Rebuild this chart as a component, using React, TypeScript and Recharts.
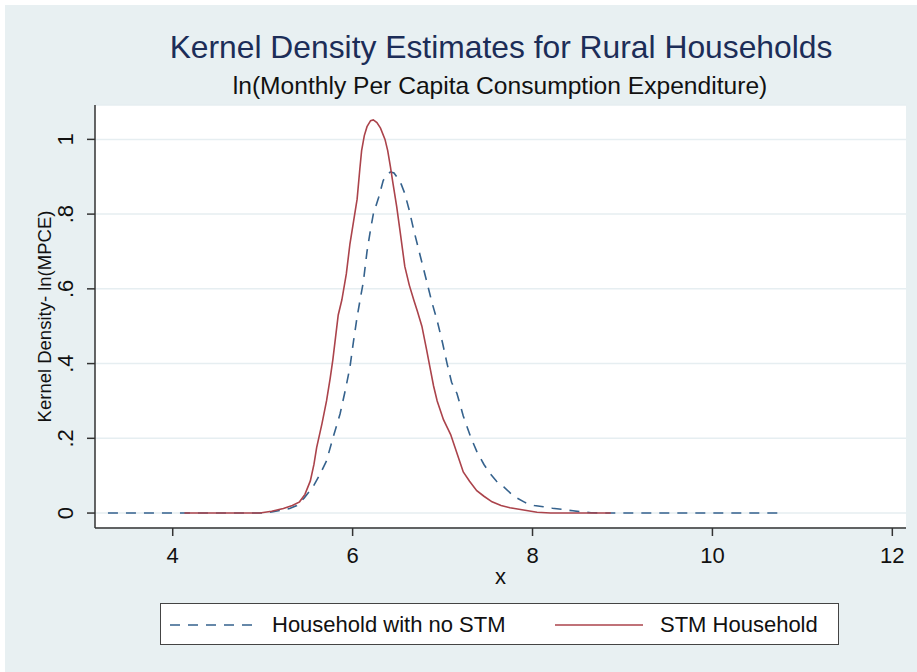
import React from 'react';
import { LineChart, Line, XAxis, YAxis, CartesianGrid } from 'recharts';

// ln(MPCE) grid points and kernel density
const noStmX = [3.28, 5.0, 5.1, 5.2, 5.3, 5.38, 5.46, 5.56, 5.64, 5.71, 5.78, 5.86, 5.92, 5.97, 6.01, 6.05, 6.09, 6.12, 6.16, 6.2, 6.23, 6.29, 6.34, 6.38, 6.42, 6.46, 6.49, 6.54, 6.58, 6.63, 6.68, 6.75, 6.83, 6.88, 6.94, 7.0, 7.05, 7.1, 7.16, 7.23, 7.31, 7.38, 7.46, 7.53, 7.6, 7.68, 7.76, 7.83, 7.92, 8.02, 8.12, 8.22, 8.32, 8.45, 8.55, 8.65, 8.8, 10.76];
const noStmY = [0, 0, 0.003, 0.007, 0.012, 0.02, 0.04, 0.07, 0.105, 0.14, 0.2, 0.265, 0.33, 0.39, 0.46, 0.525, 0.58, 0.62, 0.7, 0.76, 0.8, 0.845, 0.89, 0.905, 0.913, 0.91, 0.9, 0.88, 0.855, 0.81, 0.757, 0.69, 0.614, 0.565, 0.515, 0.455, 0.4, 0.35, 0.32, 0.26, 0.205, 0.165, 0.13, 0.105, 0.085, 0.07, 0.052, 0.04, 0.028, 0.02, 0.017, 0.013, 0.01, 0.006, 0.003, 0.001, 0, 0];

const stmX = [4.13, 4.97, 5.1, 5.23, 5.33, 5.41, 5.47, 5.53, 5.57, 5.6, 5.66, 5.71, 5.75, 5.78, 5.81, 5.84, 5.88, 5.93, 5.97, 6.01, 6.05, 6.08, 6.1, 6.13, 6.16, 6.2, 6.23, 6.27, 6.31, 6.36, 6.39, 6.42, 6.45, 6.49, 6.53, 6.58, 6.63, 6.68, 6.72, 6.77, 6.82, 6.86, 6.9, 6.94, 7.01, 7.09, 7.16, 7.23, 7.3, 7.38, 7.46, 7.55, 7.65, 7.75, 7.85, 7.95, 8.05, 8.2, 8.87];
const stmY = [0, 0, 0.005, 0.012, 0.02, 0.03, 0.05, 0.086, 0.13, 0.175, 0.24, 0.3, 0.36, 0.41, 0.47, 0.53, 0.57, 0.64, 0.72, 0.78, 0.84, 0.92, 0.97, 1.01, 1.034, 1.05, 1.052, 1.045, 1.03, 1.0, 0.97, 0.927, 0.88, 0.82, 0.75, 0.66, 0.61, 0.57, 0.54, 0.5, 0.44, 0.39, 0.34, 0.3, 0.25, 0.21, 0.16, 0.11, 0.085, 0.06, 0.045, 0.03, 0.02, 0.014, 0.01, 0.006, 0.002, 0, 0];

const xTicks = [4, 6, 8, 10, 12];
const yTicks = [0, 0.2, 0.4, 0.6, 0.8, 1];

const noStmData = noStmX.map((x, i) => ({ x, y: noStmY[i] }));
const stmData = stmX.map((x, i) => ({ x, y: stmY[i] }));

const FONT = '"Liberation Sans", Arial, sans-serif';
const BG = '#e8f0f2';
const BLUE = '#35628d';
const RED = '#ab434b';

// Stata writes .2 rather than 0.2
const fmtY = (v: number) => (v === 0 || v === 1 ? String(v) : String(v).replace(/^0/, ''));

const YTick = ({ x, y, payload }: any) => (
  <text transform={`translate(${x - 14},${y}) rotate(-90)`} textAnchor="middle" fontSize={22} fill="#111" fontFamily={FONT}>
    {fmtY(payload.value)}
  </text>
);

const XTick = ({ x, y, payload }: any) => (
  <text x={x} y={y + 27} textAnchor="middle" fontSize={22} fill="#111" fontFamily={FONT}>
    {payload.value}
  </text>
);

export default function App() {
  return (
    <div style={{ position: 'absolute', left: 0, top: 0, width: 917, height: 672, background: '#fff', overflow: 'hidden', fontFamily: FONT }}>
      <div style={{ position: 'absolute', left: 5, top: 5, right: 0, bottom: 0, background: BG }} />
      <div style={{ position: 'absolute', left: 101, width: 800, top: 29, textAlign: 'center', fontSize: 31.8, color: '#1c2d58', lineHeight: '36px' }}>
        Kernel Density Estimates for Rural Households
      </div>
      <div style={{ position: 'absolute', left: 100, width: 800, top: 72, textAlign: 'center', fontSize: 24.6, color: '#111', lineHeight: '28px' }}>
        ln(Monthly Per Capita Consumption Expenditure)
      </div>

      <div style={{ position: 'absolute', left: 0, top: 0 }}>
        <LineChart width={917} height={672} margin={{ top: 105, right: 11, bottom: 84, left: 35 }}>
          <CartesianGrid horizontal vertical={false} stroke="#e6eef1" strokeWidth={1.5} fill="#fff" />
          <XAxis
            dataKey="x"
            type="number"
            domain={[3.136, 12.152]}
            ticks={xTicks}
            allowDataOverflow
            height={60}
            tickSize={8}
            tickMargin={0}
            stroke="#333"
            strokeWidth={1.5}
            tick={<XTick />}
            label={{
              content: ({ viewBox }: any) => (
                <text x={viewBox.x + viewBox.width / 2} y={viewBox.y + 56} textAnchor="middle" fontSize={22} fill="#111" fontFamily={FONT}>
                  x
                </text>
              ),
            }}
          />
          <YAxis
            dataKey="y"
            type="number"
            domain={[-0.04, 1.092]}
            ticks={yTicks}
            allowDataOverflow
            width={60}
            tickSize={8}
            tickMargin={0}
            stroke="#333"
            strokeWidth={1.5}
            tick={<YTick />}
            label={{
              content: ({ viewBox }: any) => (
                <text
                  transform={`translate(${viewBox.x + 16},${viewBox.y + viewBox.height / 2}) rotate(-90)`}
                  textAnchor="middle"
                  fontSize={18.5}
                  fill="#111"
                  fontFamily={FONT}
                >
                  Kernel Density- ln(MPCE)
                </text>
              ),
            }}
          />
          <Line data={noStmData} dataKey="y" type="linear" stroke={BLUE} strokeWidth={1.6} strokeDasharray="10 8" dot={false} activeDot={false} isAnimationActive={false} />
          <Line data={stmData} dataKey="y" type="linear" stroke={RED} strokeWidth={1.6} dot={false} activeDot={false} isAnimationActive={false} />
        </LineChart>
      </div>

      <div style={{ position: 'absolute', left: 160, top: 603, width: 677, height: 40, background: '#fff', border: '1.5px solid #444' }}>
        <svg style={{ position: 'absolute', left: 9, top: 19 }} width={90} height={4}>
          <line x1={0} y1={2} x2={88} y2={2} stroke={BLUE} strokeWidth={1.6} strokeDasharray="10 8" />
        </svg>
        <span style={{ position: 'absolute', left: 111, top: 8, fontSize: 22, color: '#111', lineHeight: '26px', whiteSpace: 'nowrap' }}>
          Household with no STM
        </span>
        <svg style={{ position: 'absolute', left: 394, top: 19 }} width={90} height={4}>
          <line x1={0} y1={2} x2={88} y2={2} stroke={RED} strokeWidth={1.6} />
        </svg>
        <span style={{ position: 'absolute', left: 499, top: 8, fontSize: 22, color: '#111', lineHeight: '26px', whiteSpace: 'nowrap' }}>
          STM Household
        </span>
      </div>
    </div>
  );
}
